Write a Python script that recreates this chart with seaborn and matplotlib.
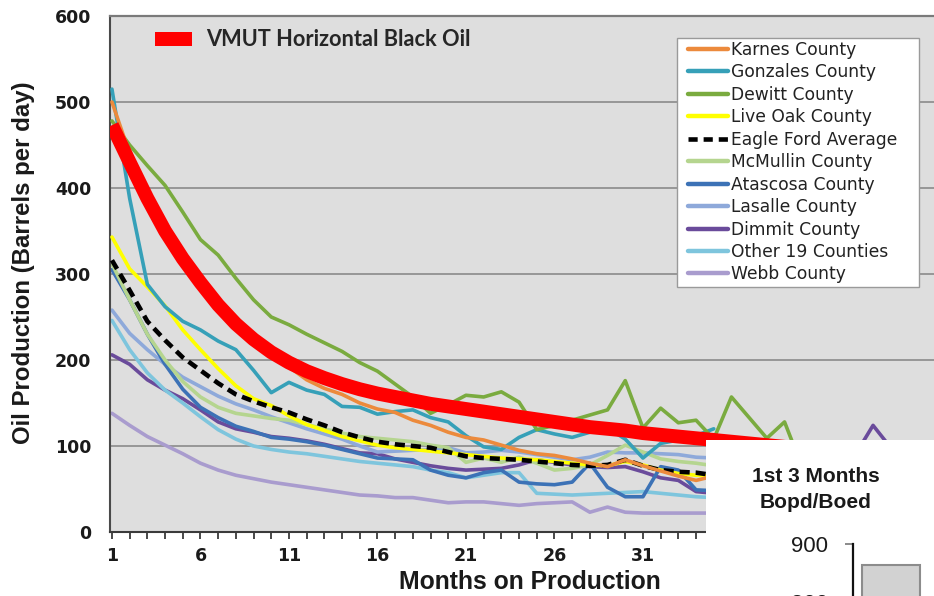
import matplotlib
matplotlib.use("Agg")
import matplotlib.pyplot as plt
import seaborn as sns
from matplotlib.lines import Line2D
from matplotlib.patches import Patch, Rectangle

# ---------------- data ----------------
months35 = list(range(1, 36))
months40 = list(range(1, 41))
months46 = list(range(1, 47))

karnes = [500, 440, 397, 360, 327, 298, 272, 250, 230, 208, 192, 177, 167, 160, 150, 143, 139, 130,
          124, 116, 110, 107, 101, 95, 91, 89, 85, 80, 76, 84, 77, 71, 65, 60, 65]
gonzales = [515, 388, 288, 262, 245, 235, 222, 212, 188, 162, 174, 165, 160, 146, 145, 137, 140, 142,
            133, 128, 112, 99, 96, 110, 119, 114, 110, 116, 121, 108, 86, 103, 107, 112, 120]
dewitt = [478, 450, 426, 403, 372, 340, 322, 295, 270, 250, 241, 230, 220, 210, 197, 187, 172, 157,
          138, 148, 159, 157, 163, 151, 119, 124, 130, 136, 142, 176, 121, 144, 127, 130, 108, 157,
          133, 109, 128, 75]
live_oak = [343, 306, 285, 263, 235, 212, 190, 170, 155, 147, 135, 125, 118, 111, 106, 101, 98, 96,
            94, 92, 90, 88, 86, 85, 84, 82, 80, 78, 77, 82, 78, 72, 68, 66, 65]
eagle_ford = [316, 281, 245, 223, 203, 188, 173, 160, 152, 145, 139, 131, 124, 116, 110, 105, 102, 100,
              98, 93, 88, 86, 85, 84, 82, 80, 78, 77, 78, 84, 77, 72, 70, 69, 66]
mcmullin = [312, 270, 230, 200, 175, 157, 145, 138, 135, 132, 130, 125, 120, 115, 111, 109, 107, 105,
            101, 98, 81, 86, 81, 87, 80, 72, 74, 78, 89, 101, 93, 85, 82, 80, 77]
atascosa = [305, 270, 230, 195, 166, 145, 133, 123, 117, 110, 108, 105, 101, 96, 91, 86, 85, 84,
            72, 66, 63, 69, 72, 58, 56, 55, 58, 80, 52, 41, 41, 76, 72, 49, 48]
lasalle = [258, 231, 212, 195, 180, 169, 158, 149, 142, 134, 127, 120, 114, 108, 100, 93, 94, 95,
           96, 98, 92, 93, 95, 93, 90, 87, 84, 87, 93, 92, 92, 91, 90, 87, 86]
dimmit = [206, 195, 177, 165, 155, 142, 128, 120, 116, 111, 109, 106, 102, 97, 92, 91, 85, 81,
          77, 74, 72, 73, 74, 78, 84, 81, 78, 76, 75, 76, 70, 63, 60, 47, 45,
          48, 50, 52, 55, 58, 65, 75, 90, 124, 98, 90]
other19 = [246, 212, 185, 165, 150, 134, 119, 108, 100, 96, 93, 91, 88, 85, 82, 80, 78, 76,
           72, 69, 63, 66, 69, 69, 45, 44, 43, 44, 45, 46, 47, 45, 43, 41, 40]
webb = [138, 124, 111, 101, 91, 80, 72, 66, 62, 58, 55, 52, 49, 46, 43, 42, 40, 40,
        37, 34, 35, 35, 33, 31, 33, 34, 35, 23, 29, 23, 22, 22, 22, 22, 22]
vmut = [473, 430, 388, 350, 318, 290, 264, 242, 224, 209, 197, 187, 179, 172, 166, 161, 157, 153,
        149, 146, 143, 140, 137, 134, 131, 128, 125, 122, 120, 118, 115, 113, 111, 109, 107, 105,
        103, 101, 99, 97]

y_ticks = [0, 100, 200, 300, 400, 500, 600]
x_ticks = [1, 6, 11, 16, 21, 26, 31, 36, 41, 46]

inset_cats = ["VMUT"]
inset_vals = [864]
inset_ticks = [0, 100, 200, 300, 400, 500, 600, 700, 800, 900]

series = [
    ("Karnes County", months35, karnes, "#ec8a3c", "-"),
    ("Gonzales County", months35, gonzales, "#36a0b8", "-"),
    ("Dewitt County", months40, dewitt, "#7aab3f", "-"),
    ("Live Oak County", months35, live_oak, "#ffff00", "-"),
    ("Eagle Ford Average", months35, eagle_ford, "#000000", "--"),
    ("McMullin County", months35, mcmullin, "#b5d58f", "-"),
    ("Atascosa County", months35, atascosa, "#3c72b6", "-"),
    ("Lasalle County", months35, lasalle, "#8ea9da", "-"),
    ("Dimmit County", months46, dimmit, "#6a4b9b", "-"),
    ("Other 19 Counties", months35, other19, "#7ec5dd", "-"),
    ("Webb County", months35, webb, "#a99cce", "-"),
]

# ---------------- figure ----------------
sns.set_style("white")
plt.rcParams["font.family"] = ["Liberation Sans", "DejaVu Sans"]

W, H = 934, 596
fig = plt.figure(figsize=(W / 100, H / 100), dpi=100)
ax = fig.add_axes([110 / W, (H - 532) / H, (W - 110) / W, (532 - 16) / H])
ax.set_facecolor("#dedede")

draw_order = [10, 8, 9, 7, 6, 5, 3, 4, 1, 2, 0]
zorders = {}
for z, i in enumerate(draw_order):
    zorders[i] = 2 + z * 0.1
handles = []
for i, (name, xs, ys, col, ls) in enumerate(series):
    if ls == "--":
        sns.lineplot(x=xs, y=ys, ax=ax, color=col, linewidth=3.3, linestyle=(0, (2.2, 1.3)),
                     zorder=zorders[i])
        handles.append(Line2D([], [], color=col, lw=3.3, linestyle=(0, (2.0, 1.3))))
    else:
        sns.lineplot(x=xs, y=ys, ax=ax, color=col, linewidth=2.6, zorder=zorders[i])
        handles.append(Line2D([], [], color=col, lw=3.2))

sns.lineplot(x=months40, y=vmut, ax=ax, color="#ff0000", linewidth=10, zorder=4,
             solid_capstyle="butt")

ax.set_xlim(0.89, 0.89 + (W - 110) / 17.7)
ax.set_ylim(0, 600)
ax.set_yticks(y_ticks)
ax.set_xticks(x_ticks)
ax.set_xticks(list(range(1, 48)), minor=True)
ax.grid(axis="y", color="#8a8a8a", linewidth=1.2)
ax.grid(axis="x", visible=False)
ax.set_axisbelow(True)

ax.spines["right"].set_visible(False)
ax.spines["top"].set_color("#7a7a7a")
ax.spines["top"].set_linewidth(1.6)
ax.spines["left"].set_color("#4a4a4a")
ax.spines["left"].set_linewidth(1.5)
ax.spines["bottom"].set_color("#3a3a3a")
ax.spines["bottom"].set_linewidth(1.5)

ax.tick_params(axis="y", which="major", direction="inout", length=9, width=1.3, color="#3a3a3a",
               pad=9, labelcolor="#1a1a1a")
ax.tick_params(axis="x", which="both", direction="out", length=5, width=1.3, color="#3a3a3a",
               pad=6, labelcolor="#1a1a1a", bottom=True)
for lab in ax.get_xticklabels() + ax.get_yticklabels():
    lab.set_fontfamily("DejaVu Sans")
    lab.set_fontweight("bold")
    lab.set_fontsize(12.5)

ax.set_xlabel("Months on Production", fontsize=17.8, fontweight="bold", color="#1a1a1a")
ax.set_ylabel("Oil Production (Barrels per day)", fontsize=17.3, fontweight="bold", color="#1a1a1a")
ax.xaxis.set_label_coords((530 - 110) / (W - 110), -(582 - 532) / (532 - 16), transform=ax.transAxes)
ax.xaxis.label.set_verticalalignment("center")
ax.yaxis.set_label_coords(-(110 - 24) / (W - 110), (532 - 263) / (532 - 16), transform=ax.transAxes)
ax.yaxis.label.set_verticalalignment("center")

# legend frame drawn separately so the inner padding can differ per direction
frame = Rectangle((677 / W, 1 - 287 / H), (919 - 677) / W, (287 - 38) / H,
                  transform=fig.transFigure, facecolor="white", edgecolor="#9a9a9a",
                  linewidth=1.0, zorder=10, clip_on=False)
ax.add_patch(frame)

leg = ax.legend(handles, [s[0] for s in series], loc="upper left",
                bbox_to_anchor=(688 / W, 1 - 41 / H), bbox_transform=fig.transFigure,
                borderaxespad=0, borderpad=0, frameon=False,
                handlelength=2.34, handletextpad=0.18, labelspacing=0.26,
                prop={"family": "DejaVu Sans", "size": 12.3})
leg.set_zorder(11)
for t in leg.get_texts():
    t.set_color("#222222")
ax.add_artist(leg)

leg2 = ax.legend([Patch(facecolor="#ff0000", edgecolor="none")], ["VMUT Horizontal Black Oil"],
                 loc="center left", bbox_to_anchor=(155 / W, 1 - 40 / H),
                 bbox_transform=fig.transFigure, borderaxespad=0, borderpad=0, frameon=False,
                 handlelength=1.68, handleheight=0.58, handletextpad=0.68,
                 prop={"family": "Lato", "weight": "bold", "size": 15.7})

# ---------------- inset ----------------
box = fig.add_axes([706 / W, 0, (W - 706) / W, (H - 440) / H])
box.set_facecolor("white")
box.set_xticks([])
box.set_yticks([])
for s in box.spines.values():
    s.set_visible(False)
box.text((816 - 706) / (W - 706), (596 - 476) / (596 - 440), "1st 3 Months", ha="center",
         va="center", fontsize=15, fontweight="bold", color="#1a1a1a", transform=box.transAxes)
box.text((816 - 706) / (W - 706), (596 - 502) / (596 - 440), "Bopd/Boed", ha="center",
         va="center", fontsize=15, fontweight="bold", color="#1a1a1a", transform=box.transAxes)

px_per_unit = 0.58
bottom_px = 544 + 900 * px_per_unit
bax = fig.add_axes([853 / W, (H - bottom_px) / H, (W - 853) / W, (bottom_px - 544) / H])
bax.set_facecolor("none")
sns.barplot(x=inset_cats, y=inset_vals, ax=bax, color="#d2d2d2", edgecolor="#8c8c8c",
            linewidth=1.5, width=0.8, saturation=1)
bax.set_xlim(-0.4 - 9 / 72.5, -0.4 + (W - 853) / 72.5 - 9 / 72.5)
bax.set_ylim(0, 900)
bax.set_yticks(inset_ticks)
for s in ["top", "right", "bottom"]:
    bax.spines[s].set_visible(False)
bax.spines["left"].set_color("#111111")
bax.spines["left"].set_linewidth(1.6)
bax.tick_params(axis="y", direction="out", length=6, width=1.2, color="#777777", pad=12,
                labelsize=16, labelcolor="#1a1a1a", left=True)
bax.tick_params(axis="x", bottom=False, labelbottom=False)
bax.set_xlabel("")
bax.set_ylabel("")

fig.savefig("out.png", dpi=100)
